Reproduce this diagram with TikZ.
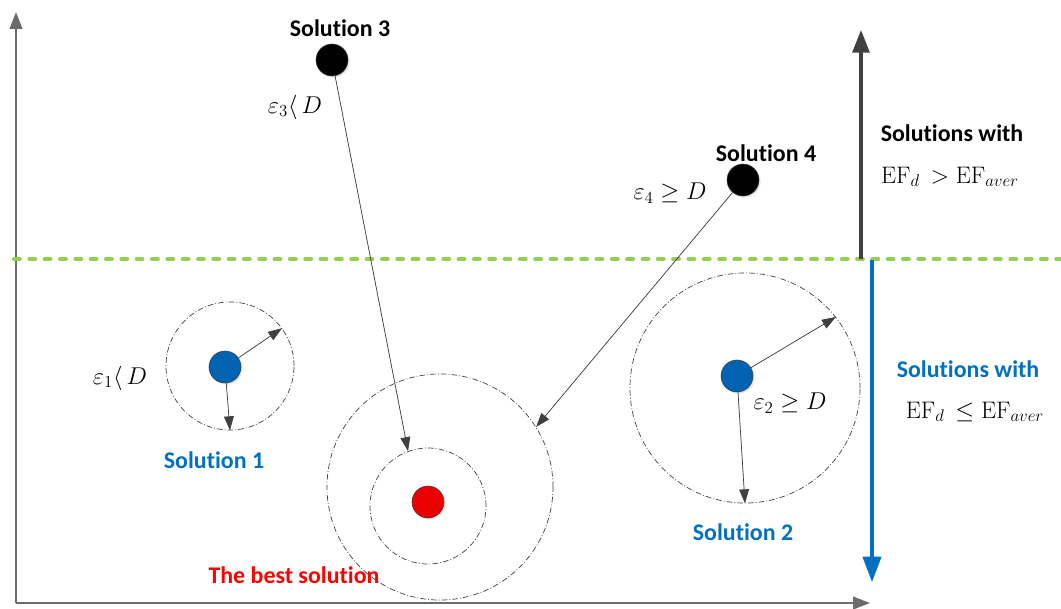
\documentclass[tikz,border=0pt]{standalone}
\usepackage{fontspec}
\setsansfont[Ligatures=NoCommon]{Carlito}
\usepackage{xcolor}
\usepackage{tikz}
\usetikzlibrary{positioning,arrows.meta,shadows}

\definecolor{solblue}{RGB}{0,112,192}
\definecolor{dotblue}{RGB}{0,99,177}
\definecolor{dotred}{RGB}{235,0,0}
\definecolor{linegreen}{RGB}{146,208,80}
\definecolor{darkarr}{RGB}{64,64,64}

\begin{document}
\begin{tikzpicture}[x=0.025cm, y=-0.025cm,
  dot/.style={draw=darkarr, circle, minimum size=0.8cm, inner sep=0pt, fill=#1,
    drop shadow={opacity=0.2, shadow xshift=1.2pt, shadow yshift=-1.2pt}},
  zone/.style={draw=darkarr, circle, inner sep=0pt, minimum size=#1, line width=0.5pt,
    dash pattern=on 4pt off 1.5pt on 0.6pt off 1.5pt},
  sollabel/.style={font=\sffamily\bfseries\fontsize{17}{20}\selectfont, text=#1},
  formula/.style={font=\fontsize{17}{20}\selectfont},
  arr/.style={-{Triangle[length=10pt,width=7pt]}, draw=darkarr, fill=darkarr, line width=0.5pt},
  axisarr/.style={-{Triangle[length=12pt,width=9pt]}, draw=gray!85!black, line width=1.2pt}
]
  \useasboundingbox (0,0) rectangle (1061,608);

  % axes
  \coordinate (o) at (16,603);
  \coordinate (ytop) at (16,12);
  \coordinate (xend) at (870,603);
  \draw[axisarr] (o) -- (ytop);
  \draw[axisarr] (o) -- (xend);

  % threshold line and the two regions
  \coordinate (gl) at (14,259);
  \coordinate (gr) at (1061,259);
  \draw[linegreen, line width=2.8pt, line cap=round, dash pattern=on 4.2pt off 6.7pt] (gl) -- (gr);
  \coordinate (up0) at (861,259);
  \coordinate (up1) at (861,30);
  \coordinate (dn0) at (872,260);
  \coordinate (dn1) at (872,582);
  \draw[-{Triangle[length=16pt,width=12pt]}, darkarr, line width=2.2pt] (up0) -- (up1);
  \draw[-{Triangle[length=18pt,width=13pt]}, solblue, line width=2.2pt] (dn0) -- (dn1);

  \node[sollabel=black] (tup) at (952,133) {Solutions with};
  \node[formula] (fup) at (950,177) {$\mathrm{EF}_d\, > \mathrm{EF}_{aver}$};
  \node[sollabel=solblue] (tdn) at (968,369) {Solutions with};
  \node[formula] (fdn) at (975,412) {$\mathrm{EF}_d\, \le \mathrm{EF}_{aver}$};

  % best solution
  \node[zone=5.65cm] (out) at (440,487) {};
  \node[zone=2.9cm] (in1) at (428,506) {};
  \node[dot=dotred] (best) at (428,502) {};
  \node[sollabel=red] (tbest) at (294,575) {The best solution};

  % solution 1
  \node[zone=3.2cm] (c1) at (230,366) {};
  \node[dot=dotblue] (s1) at (225,367) {};
  \draw[arr] (s1) -- (c1.36);
  \draw[arr] (s1) -- (c1.-90);
  \node[formula] (e1) at (120,378) {$\varepsilon_1\langle\, D$};
  \node[sollabel=solblue] (t1) at (214,460) {Solution 1};

  % solution 2
  \node[zone=5.75cm] (c2) at (745,388) {};
  \node[dot=dotblue] (s2) at (737,376) {};
  \draw[arr] (s2) -- (c2.38);
  \draw[arr] (s2) -- (c2.-90);
  \node[formula] (e2) at (790,403) {$\varepsilon_2\ge D$};
  \node[sollabel=solblue] (t2) at (743,532) {Solution 2};

  % solution 3
  \node[dot=black] (s3) at (332,60) {};
  \node[sollabel=black] (t3) at (340,28) {Solution 3};
  \node[formula] (e3) at (295,107) {$\varepsilon_3\langle\, D$};
  \draw[arr] (s3) -- (in1.110);

  % solution 4
  \node[dot=black] (s4) at (743,180) {};
  \node[sollabel=black] (t4) at (766,153) {Solution 4};
  \node[formula] (e4) at (670,193) {$\varepsilon_4 \ge D$};
  \draw[arr] (s4) -- (out.32);
\end{tikzpicture}
\end{document}
